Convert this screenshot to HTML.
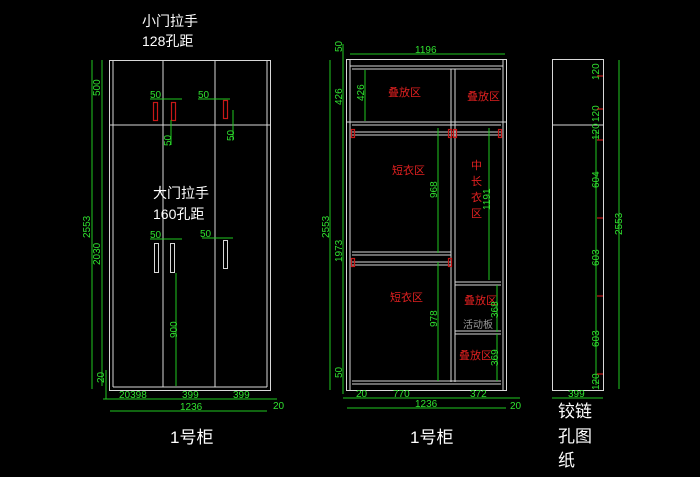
<!DOCTYPE html>
<html><head><meta charset="utf-8"><style>
html,body{margin:0;padding:0;background:#000;width:700px;height:477px;overflow:hidden}
svg{display:block}
.w{stroke:#d8d8d8;stroke-width:1;fill:none}
.g{stroke:#1fc81f;stroke-width:1;fill:none}
.r{stroke:#c81818;stroke-width:1.2;fill:none}
.gt{fill:#2fe02f;font-family:"Liberation Sans",sans-serif;font-size:10px}
.wt{fill:#fff;font-family:"Liberation Sans","Noto Sans CJK SC",sans-serif}
.rt{fill:#e02020;font-family:"Liberation Sans","Noto Sans CJK SC",sans-serif;font-size:11px}
</style></head><body>
<svg width="700" height="477" viewBox="0 0 700 477" xmlns="http://www.w3.org/2000/svg">
<!-- LEFT CABINET -->
<text class="wt" x="142" y="26" font-size="14">小门拉手</text>
<text class="wt" x="142" y="46" font-size="14">128孔距</text>
<rect class="w" x="109.5" y="60.5" width="161" height="330"/>
<line class="w" x1="113" y1="60" x2="113" y2="387"/>
<line class="w" x1="267" y1="60" x2="267" y2="387"/>
<line class="w" x1="109" y1="125" x2="270" y2="125"/>
<line class="w" x1="113" y1="387" x2="267" y2="387"/>
<line class="w" x1="163" y1="60" x2="163" y2="387"/>
<line class="w" x1="215" y1="60" x2="215" y2="387"/>
<rect class="r" x="153.5" y="102.5" width="4" height="18"/>
<rect class="r" x="171.5" y="102.5" width="4" height="18"/>
<rect class="r" x="223.5" y="100.5" width="4" height="18"/>
<rect class="w" x="154.5" y="243.5" width="4" height="29"/>
<rect class="w" x="170.5" y="243.5" width="4" height="29"/>
<rect class="w" x="223.5" y="240.5" width="4" height="28"/>
<text class="wt" x="153" y="198" font-size="14">大门拉手</text>
<text class="wt" x="153" y="219" font-size="14">160孔距</text>
<!-- left dims -->
<line class="g" x1="92" y1="60" x2="92" y2="389"/>
<line class="g" x1="102" y1="60" x2="102" y2="386"/>
<line class="g" x1="106" y1="370" x2="106" y2="399"/>
<text class="gt" transform="translate(100,96) rotate(-90)">500</text>
<text class="gt" transform="translate(90,238) rotate(-90)">2553</text>
<text class="gt" transform="translate(100,265) rotate(-90)">2030</text>
<text class="gt" transform="translate(104,383) rotate(-90)">20</text>
<line class="g" x1="150" y1="99" x2="182" y2="99"/>
<text class="gt" x="150" y="98">50</text>
<line class="g" x1="198" y1="99" x2="230" y2="99"/>
<text class="gt" x="198" y="98">50</text>
<line class="g" x1="171" y1="120" x2="171" y2="145"/>
<text class="gt" transform="translate(171,146) rotate(-90)">50</text>
<line class="g" x1="233" y1="110" x2="233" y2="140"/>
<text class="gt" transform="translate(234,141) rotate(-90)">50</text>
<line class="g" x1="150" y1="239" x2="182" y2="239"/>
<text class="gt" x="150" y="238">50</text>
<line class="g" x1="202" y1="238" x2="233" y2="238"/>
<text class="gt" x="200" y="237">50</text>
<line class="g" x1="176" y1="273" x2="176" y2="386"/>
<text class="gt" transform="translate(177,338) rotate(-90)">900</text>
<line class="g" x1="103" y1="399" x2="277" y2="399"/>
<text class="gt" x="119" y="398">20398</text>
<text class="gt" x="182" y="398">399</text>
<text class="gt" x="233" y="398">399</text>
<line class="g" x1="110" y1="411" x2="267" y2="411"/>
<text class="gt" x="180" y="410">1236</text>
<text class="gt" x="273" y="409">20</text>
<text class="wt" x="170" y="443" font-size="17">1号柜</text>

<!-- MIDDLE CABINET -->
<rect class="w" x="346.5" y="59.5" width="160" height="331"/>
<line class="w" x1="350" y1="59" x2="350" y2="390"/>
<line class="w" x1="503" y1="59" x2="503" y2="390"/>
<line class="w" x1="350" y1="66" x2="503" y2="66"/>
<line class="w" x1="352" y1="69" x2="501" y2="69"/>
<line class="w" x1="451" y1="69" x2="451" y2="382"/>
<line class="w" x1="455" y1="69" x2="455" y2="382"/>
<line class="w" x1="347" y1="122" x2="506" y2="122"/>
<line class="w" x1="352" y1="125" x2="501" y2="125"/>
<line class="w" x1="352" y1="132" x2="501" y2="132"/>
<line class="w" x1="352" y1="135" x2="501" y2="135"/>
<line class="w" x1="352" y1="252" x2="451" y2="252"/>
<line class="w" x1="352" y1="255" x2="451" y2="255"/>
<line class="w" x1="352" y1="262" x2="451" y2="262"/>
<line class="w" x1="352" y1="265" x2="451" y2="265"/>
<line class="w" x1="455" y1="282" x2="501" y2="282"/>
<line class="w" x1="455" y1="285" x2="501" y2="285"/>
<line class="w" x1="455" y1="331" x2="501" y2="331"/>
<line class="w" x1="455" y1="334" x2="501" y2="334"/>
<line class="w" x1="352" y1="381" x2="501" y2="381"/>
<line class="w" x1="352" y1="384" x2="501" y2="384"/>
<rect class="r" x="351.5" y="129.5" width="3" height="8"/>
<rect class="r" x="448.5" y="129.5" width="3" height="8"/>
<rect class="r" x="453.5" y="129.5" width="3" height="8"/>
<rect class="r" x="498.5" y="129.5" width="3" height="8"/>
<rect class="r" x="351.5" y="258.5" width="3" height="8"/>
<rect class="r" x="448.5" y="258.5" width="3" height="8"/>
<text class="rt" x="388" y="96">叠放区</text>
<text class="rt" x="467" y="100">叠放区</text>
<text class="rt" x="392" y="174">短衣区</text>
<text class="rt" x="471" y="169">中</text>
<text class="rt" x="471" y="185">长</text>
<text class="rt" x="471" y="201">衣</text>
<text class="rt" x="471" y="217">区</text>
<text class="rt" x="390" y="301">短衣区</text>
<text class="rt" x="464" y="304">叠放区</text>
<text class="wt" x="463" y="328" font-size="10" fill="#9a9a9a" style="fill:#9a9a9a">活动板</text>
<text class="rt" x="459" y="359">叠放区</text>
<!-- middle dims -->
<line class="g" x1="350" y1="54" x2="505" y2="54"/>
<text class="gt" x="415" y="53">1196</text>
<line class="g" x1="330" y1="60" x2="330" y2="390"/>
<line class="g" x1="343" y1="44" x2="343" y2="394"/>
<text class="gt" transform="translate(342,52) rotate(-90)">50</text>
<text class="gt" transform="translate(342,105) rotate(-90)">426</text>
<text class="gt" transform="translate(329,238) rotate(-90)">2553</text>
<text class="gt" transform="translate(342,262) rotate(-90)">1973</text>
<text class="gt" transform="translate(342,378) rotate(-90)">50</text>
<line class="g" x1="365" y1="70" x2="365" y2="121"/>
<text class="gt" transform="translate(364,101) rotate(-90)">426</text>
<line class="g" x1="438" y1="128" x2="438" y2="253"/>
<text class="gt" transform="translate(437,198) rotate(-90)">968</text>
<line class="g" x1="489" y1="128" x2="489" y2="280"/>
<text class="gt" transform="translate(490,210) rotate(-90)">1191</text>
<line class="g" x1="438" y1="262" x2="438" y2="381"/>
<text class="gt" transform="translate(437,327) rotate(-90)">978</text>
<line class="g" x1="497" y1="285" x2="497" y2="332"/>
<text class="gt" transform="translate(498,318) rotate(-90)">368</text>
<line class="g" x1="497" y1="334" x2="497" y2="381"/>
<text class="gt" transform="translate(498,366) rotate(-90)">369</text>
<line class="g" x1="343" y1="398" x2="520" y2="398"/>
<text class="gt" x="356" y="397">20</text>
<text class="gt" x="393" y="397">770</text>
<text class="gt" x="470" y="397">372</text>
<line class="g" x1="347" y1="408" x2="506" y2="408"/>
<text class="gt" x="415" y="407">1236</text>
<text class="gt" x="510" y="409">20</text>
<text class="wt" x="410" y="443" font-size="17">1号柜</text>

<!-- RIGHT PANEL -->
<rect class="w" x="552.5" y="59.5" width="51" height="331"/>
<line class="w" x1="552" y1="125" x2="603" y2="125"/>
<line class="g" x1="596" y1="130" x2="596" y2="385"/>
<line class="g" x1="619" y1="60" x2="619" y2="389"/>
<text class="gt" transform="translate(599,80) rotate(-90)">120</text>
<text class="gt" transform="translate(599,122) rotate(-90)">120</text>
<text class="gt" transform="translate(599,140) rotate(-90)">120</text>
<text class="gt" transform="translate(599,188) rotate(-90)">604</text>
<text class="gt" transform="translate(599,266) rotate(-90)">603</text>
<text class="gt" transform="translate(599,347) rotate(-90)">603</text>
<text class="gt" transform="translate(599,390) rotate(-90)">120</text>
<text class="gt" transform="translate(622,235) rotate(-90)">2553</text>
<line class="r" x1="597" y1="76" x2="603" y2="76"/>
<line class="r" x1="597" y1="109" x2="603" y2="109"/>
<line class="r" x1="597" y1="140" x2="603" y2="140"/>
<line class="r" x1="597" y1="218" x2="603" y2="218"/>
<line class="r" x1="597" y1="296" x2="603" y2="296"/>
<line class="r" x1="597" y1="374" x2="603" y2="374"/>
<line class="g" x1="552" y1="398" x2="603" y2="398"/>
<text class="gt" x="568" y="397">399</text>
<text class="wt" x="558" y="417" font-size="17">铰链</text>
<text class="wt" x="558" y="442" font-size="17">孔图</text>
<text class="wt" x="558" y="466" font-size="17">纸</text>
</svg>
</body></html>
